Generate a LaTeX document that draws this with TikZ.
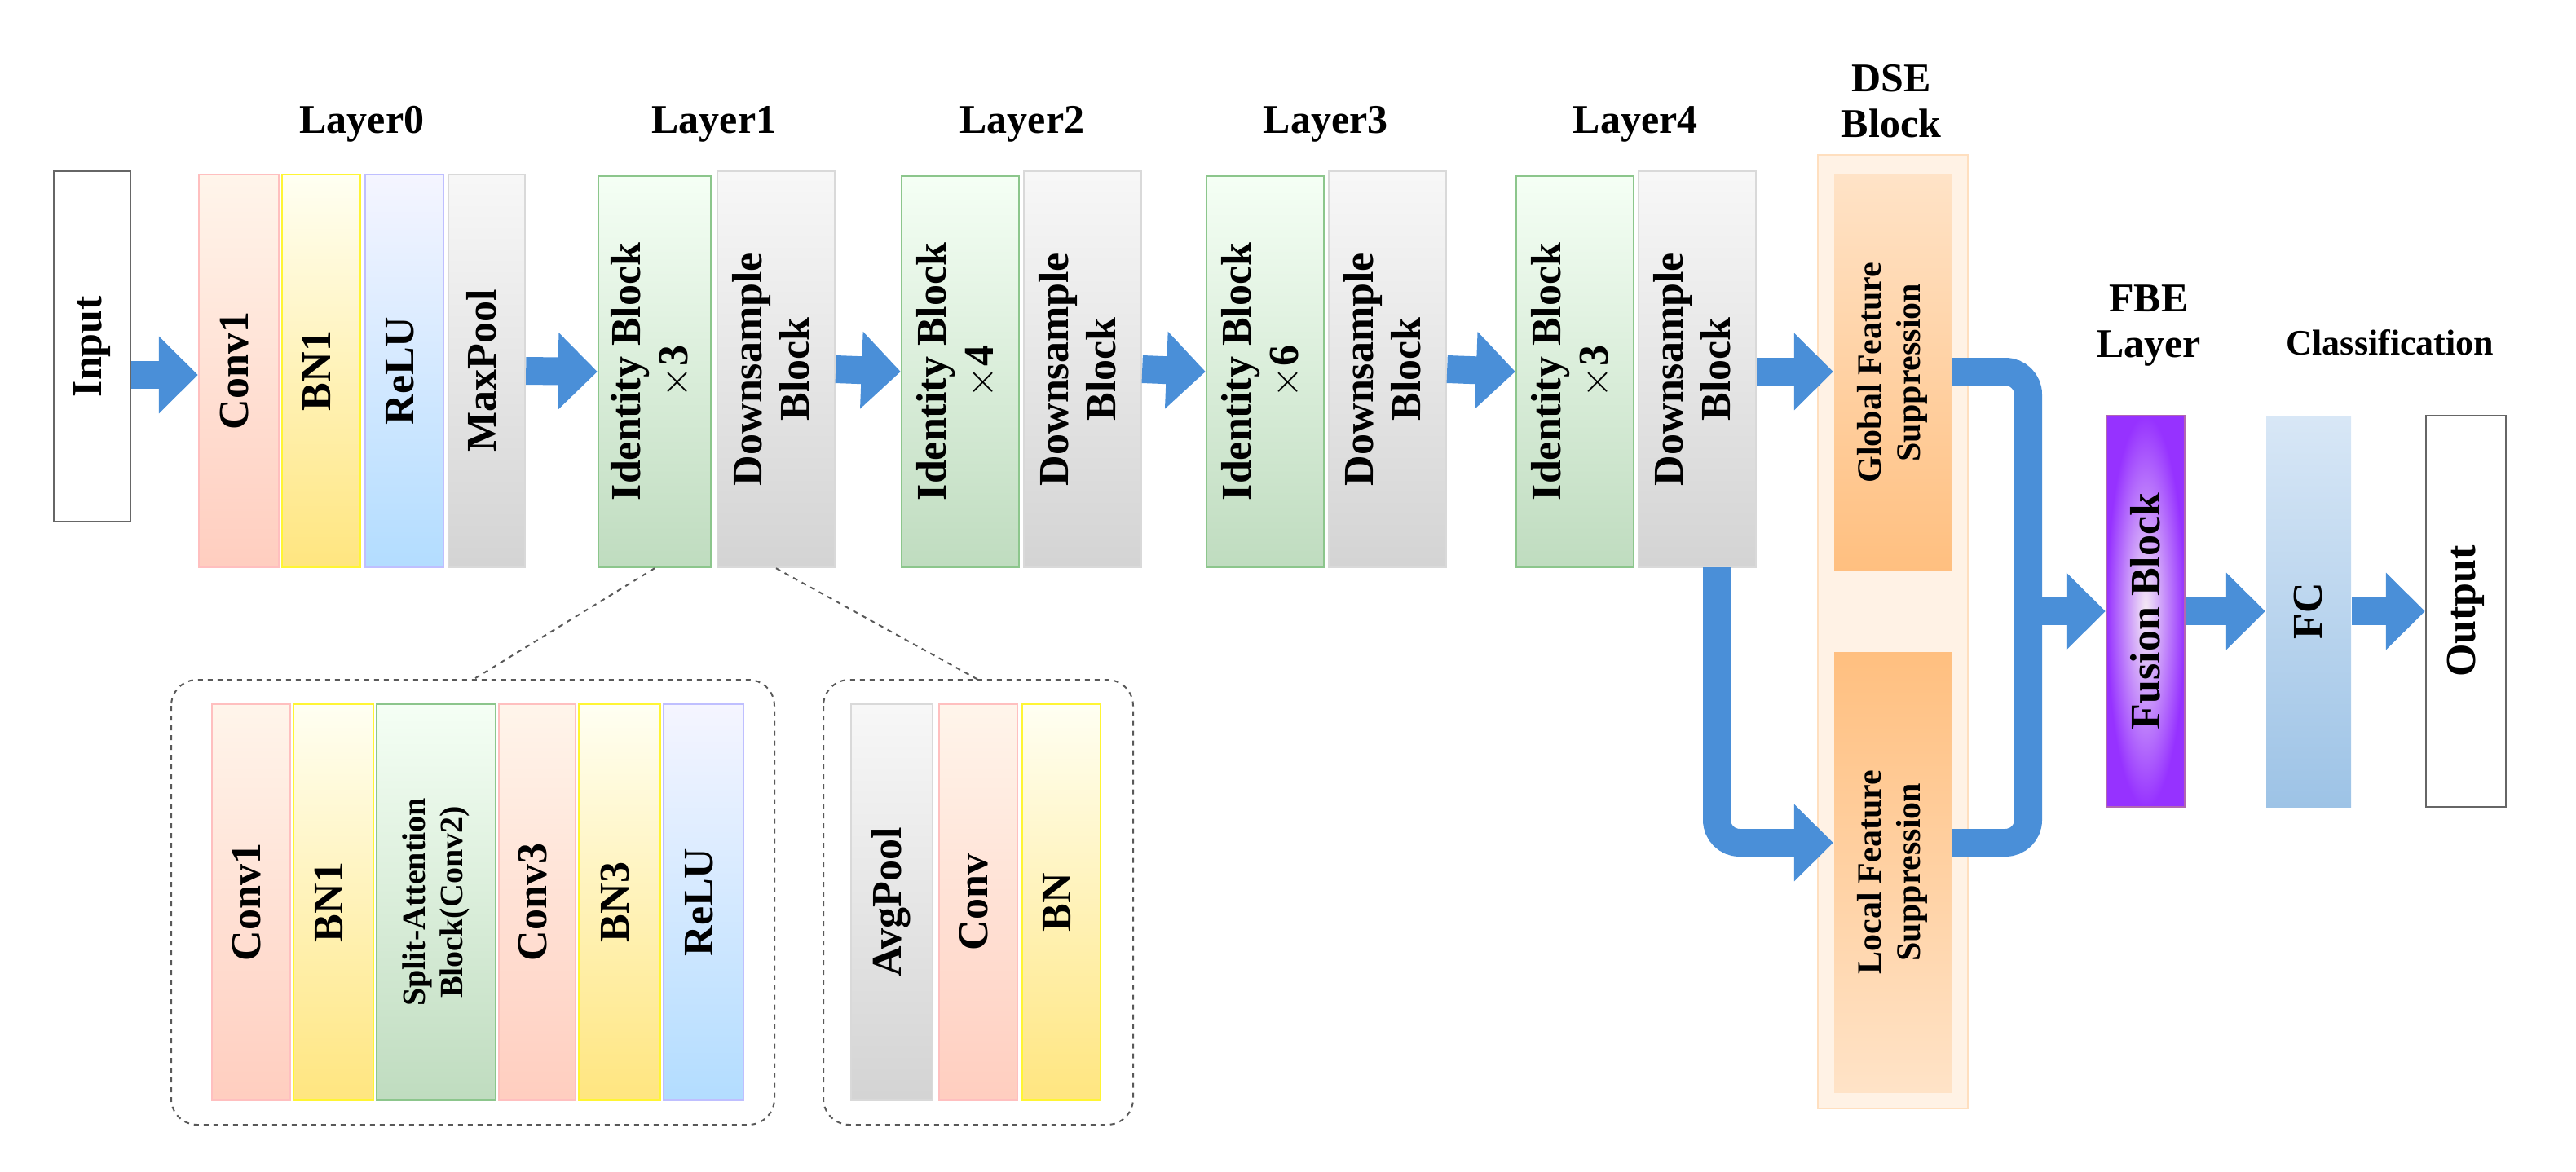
\documentclass[tikz,border=0pt]{standalone}
\usepackage{fontspec}
\setmainfont{Liberation Serif}
\usetikzlibrary{arrows.meta}
\definecolor{ab}{HTML}{4A8FD8}
\definecolor{fct}{HTML}{D8E7F6}
\definecolor{fcb}{HTML}{9DC3E6}
\tikzset{
 bx/.style={draw,line width=1.2pt,inner sep=0pt,font=\bfseries\fontsize{26}{29}\selectfont},
 conv/.style={bx,draw=red!25,top color=orange!8,bottom color=orange!45!red!25!white},
 bn/.style={bx,draw=yellow!80,top color=yellow!5,bottom color=yellow!60!orange!50!white},
 relu/.style={bx,draw=blue!25,top color=blue!4,bottom color=blue!45!cyan!30!white},
 gry/.style={bx,draw=black!15,top color=black!3,bottom color=black!17},
 grn/.style={bx,draw=green!50!black!45,top color=green!4,bottom color=green!45!black!25!white},
 org/.style={bx,draw=none,top color=orange!22,bottom color=orange!50,font=\bfseries\fontsize{21}{24}\selectfont},
 orgr/.style={bx,draw=none,top color=orange!50,bottom color=orange!22,font=\bfseries\fontsize{21}{24}\selectfont},
 wht/.style={bx,draw=black!60,fill=white},
 lbl/.style={font=\bfseries\fontsize{25}{28}\selectfont,align=center,inner sep=0pt},
 bar/.style={ab,line width=17pt},
 arr/.style={ab,line width=17pt,-{Triangle[length=24pt,width=46pt]}},
 dsh/.style={draw=black!65,dashed,line width=1pt},
}
\newcommand\blk[7]{\node[#6,minimum width={(#4-#2)*1pt},minimum height={(#5-#3)*1pt}] (#1) at ({(#2+#4)/2},{(#3+#5)/2}) {\rotatebox{90}{\begin{tabular}{@{}c@{}}#7\end{tabular}}};}
\begin{document}
\begin{tikzpicture}[x=1pt,y=-1pt]
\useasboundingbox (0,0) rectangle (1580,718.5);
\draw[dsh,rounded corners=16pt] (105,417) rectangle (475,690);
\draw[dsh,rounded corners=16pt] (505,417) rectangle (695,690);
\coordinate (g1) at (290,417); \coordinate (g2) at (600,417);
\node[draw=orange!25,line width=1.2pt,fill=orange!10,minimum width=92pt,minimum height=585pt] (dse) at (1161,387.5) {};
\blk{in}{33}{105}{80}{320}{wht}{Input}
\blk{c1}{122}{107}{171}{348}{conv}{Conv1}
\blk{b1}{173}{107}{221}{348}{bn}{BN1}
\blk{r1}{224}{107}{272}{348}{relu}{ReLU}
\blk{mp}{275}{107}{322}{348}{gry}{MaxPool}
\blk{i1}{367}{108}{436}{348}{grn}{Identity Block\\$\times$3}
\blk{d1}{440}{105}{512}{348}{gry}{Downsample\\Block}
\blk{i2}{553}{108}{625}{348}{grn}{Identity Block\\$\times$4}
\blk{d2}{628}{105}{700}{348}{gry}{Downsample\\Block}
\blk{i3}{740}{108}{812}{348}{grn}{Identity Block\\$\times$6}
\blk{d3}{815}{105}{887}{348}{gry}{Downsample\\Block}
\blk{i4}{930}{108}{1002}{348}{grn}{Identity Block\\$\times$3}
\blk{d4}{1005}{105}{1077}{348}{gry}{Downsample\\Block}
\blk{gf}{1125}{107}{1197}{350}{org}{Global Feature\\Suppression}
\blk{lf}{1125}{400}{1197}{670}{orgr}{Local Feature\\Suppression}
\node[bx,draw=violet!60,inner color=violet!8,outer color={rgb,255:red,150;green,50;blue,255},minimum width=48pt,minimum height=240pt] (fu) at (1316,375) {\rotatebox{90}{Fusion Block}};
\node[bx,draw=none,top color=fct,bottom color=fcb,minimum width=52pt,minimum height=240pt] (fc) at (1416,375) {\rotatebox{90}{FC}};
\blk{out}{1488}{255}{1537}{495}{wht}{Output}
\blk{sc1}{130}{432}{178}{675}{conv}{Conv1}
\blk{sb1}{180}{432}{229}{675}{bn}{BN1}
\blk{ssa}{231}{432}{304}{675}{grn,font=\fontsize{20}{23}\selectfont\bfseries}{Split-Attention\\Block(Conv2)}
\blk{sc3}{306}{432}{353}{675}{conv}{Conv3}
\blk{sb3}{355}{432}{405}{675}{bn}{BN3}
\blk{sr}{407}{432}{456}{675}{relu}{ReLU}
\blk{sap}{522}{432}{572}{675}{gry}{AvgPool}
\blk{scv}{576}{432}{624}{675}{conv}{Conv}
\blk{sbn}{627}{432}{675}{675}{bn}{BN}
\node[lbl] (l0) at (222,76) {Layer0};
\node[lbl] (l1) at (438,76) {Layer1};
\node[lbl] (l2) at (627,76) {Layer2};
\node[lbl] (l3) at (813,76) {Layer3};
\node[lbl] (l4) at (1003,76) {Layer4};
\node[lbl] (ld) at (1160,62) {DSE\\Block};
\node[lbl] (lfb) at (1318,200) {FBE\\Layer};
\node[lbl,font=\bfseries\fontsize{22}{25}\selectfont] (lcl) at (1466,210) {Classification};
\draw[dsh] (i1.south) -- (g1);
\draw[dsh] (d1.south) -- (g2);
\draw[arr] (in.east |- 0,230) -- (c1.west |- 0,230);
\draw[arr] (mp.east) -- (i1.west);
\draw[arr] (d1.east) -- (i2.west);
\draw[arr] (d2.east) -- (i3.west);
\draw[arr] (d3.east) -- (i4.west);
\draw[arr] (d4.east |- 0,228) -- (gf.west |- 0,228);
\coordinate (dn) at (1053,348);
\draw[arr,rounded corners=14pt] (dn) -- (1053,517) -- (lf.west |- 0,517);
\coordinate (br) at (1244,375);
\draw[bar,rounded corners=14pt] (gf.east |- 0,228) -- (1244,228) -- (1244,517) -- (lf.east |- 0,517);
\draw[arr] (br) -- (fu.west);
\draw[arr] (fu.east) -- (fc.west);
\draw[arr] (fc.east) -- (out.west);
\end{tikzpicture}
\end{document}
